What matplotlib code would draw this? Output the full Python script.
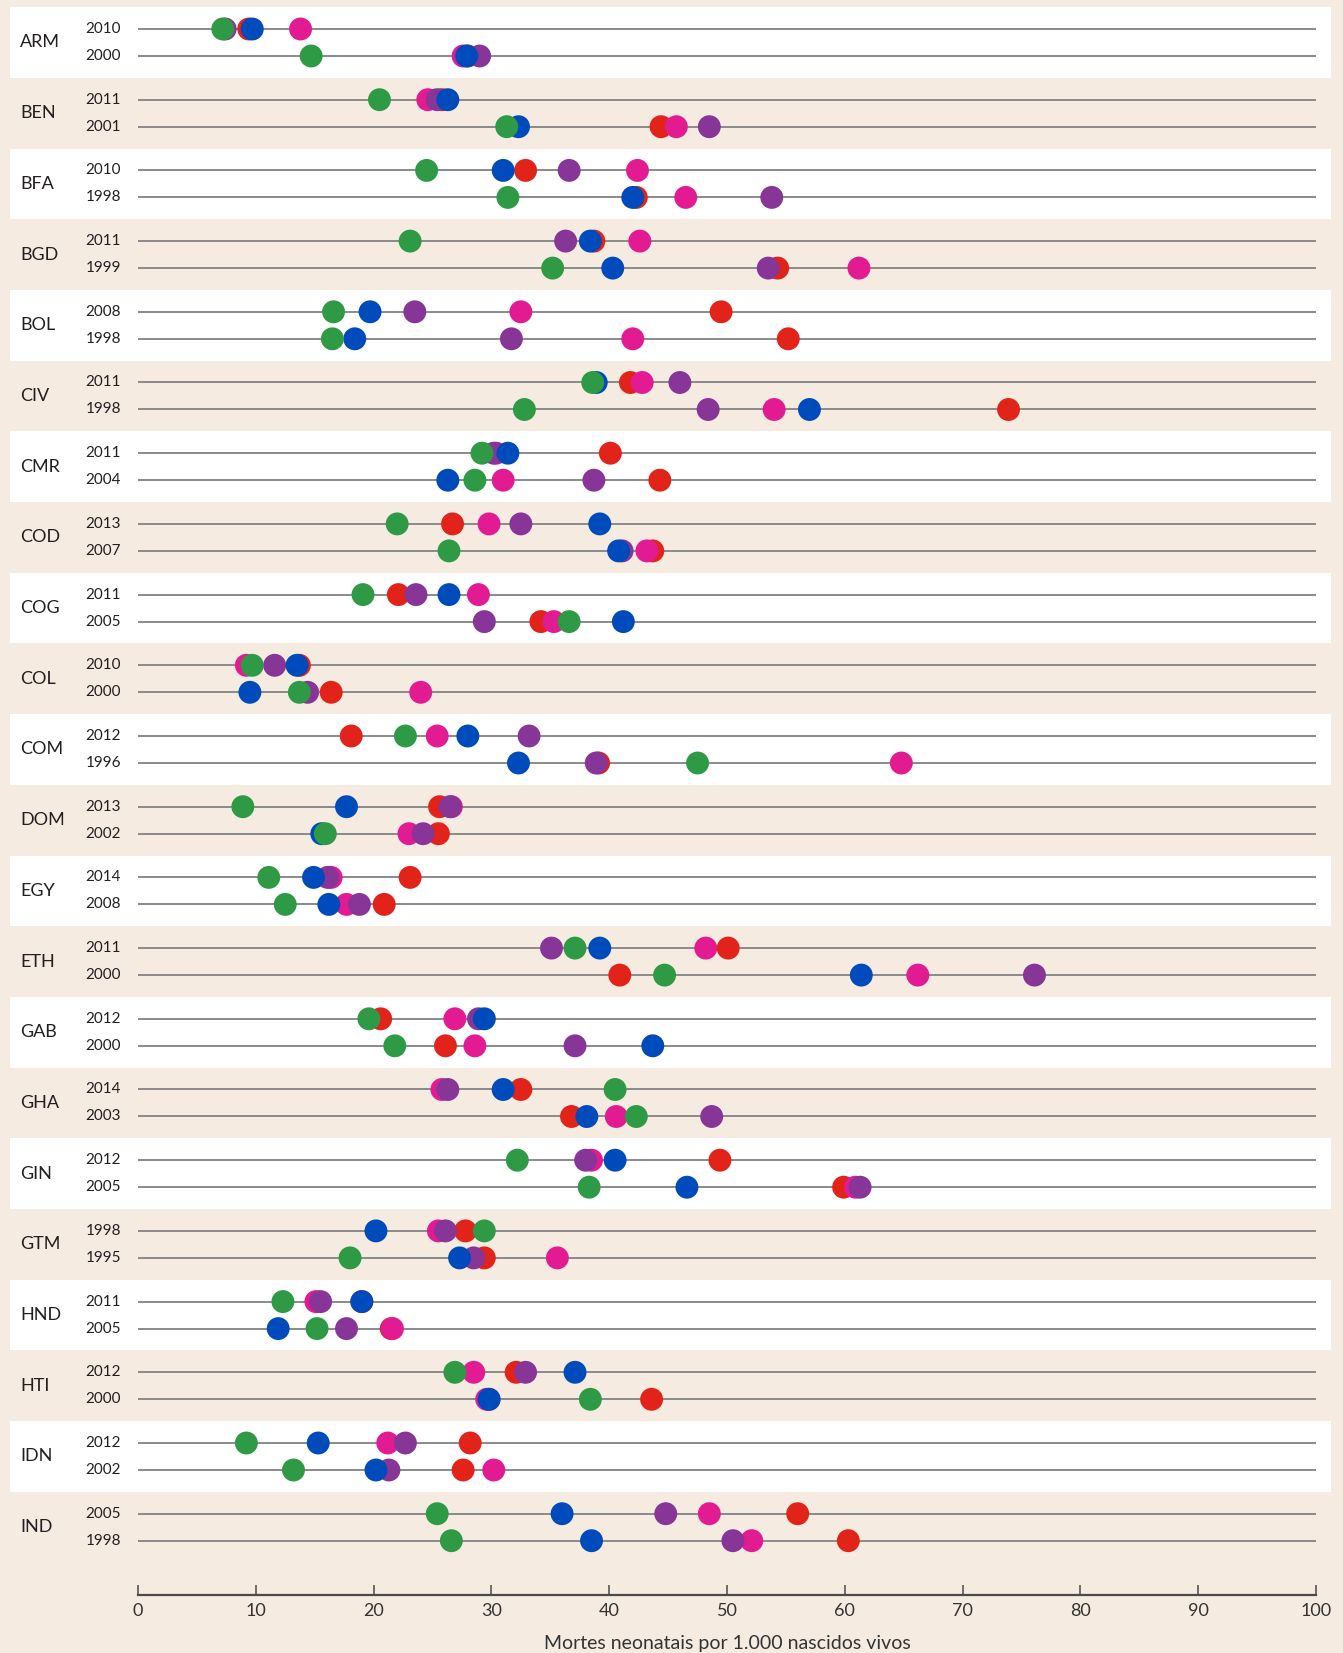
import matplotlib
matplotlib.use("Agg")
import matplotlib.pyplot as plt
from matplotlib.patches import Rectangle
import numpy as np

# ---------------- data ----------------
countries = ["ARM", "BEN", "BFA", "BGD", "BOL", "CIV", "CMR", "COD", "COG", "COL", "COM",
             "DOM", "EGY", "ETH", "GAB", "GHA", "GIN", "GTM", "HND", "HTI", "IDN", "IND"]
years_recent = ["2010", "2011", "2010", "2011", "2008", "2011", "2011", "2013", "2011", "2010", "2012",
                "2013", "2014", "2011", "2012", "2014", "2012", "1998", "2011", "2012", "2012", "2005"]
years_earlier = ["2000", "2001", "1998", "1999", "1998", "1998", "2004", "2007", "2005", "2000", "1996",
                 "2002", "2008", "2000", "2000", "2003", "2005", "1995", "2005", "2000", "2002", "1998"]

red_recent = [9.4, 25.8, 32.9, 38.7, 49.5, 41.8, 40.1, 26.7, 22.1, 13.7, 18.1,
              25.6, 23.1, 50.1, 20.6, 32.5, 49.4, 27.8, 19.0, 32.1, 28.2, 56.0]
red_earlier = [28.0, 44.4, 42.3, 54.3, 55.2, 73.9, 44.3, 43.7, 34.2, 16.4, 39.1,
               25.5, 20.9, 40.9, 26.1, 36.8, 59.9, 29.4, 21.5, 43.6, 27.6, 60.3]

pink_recent = [13.8, 24.6, 42.4, 42.6, 32.5, 42.8, 30.4, 29.8, 28.9, 9.2, 25.4,
               26.6, 16.4, 48.2, 26.9, 25.8, 38.5, 25.5, 15.1, 28.5, 21.2, 48.5]
pink_earlier = [27.6, 45.7, 46.5, 61.2, 42.0, 54.0, 31.0, 43.2, 35.3, 24.0, 64.8,
                23.0, 17.7, 66.2, 28.6, 40.6, 60.9, 35.6, 21.6, 29.6, 30.2, 52.1]

purple_recent = [7.4, 25.4, 36.6, 36.3, 23.5, 46.0, 30.2, 32.5, 23.6, 11.6, 33.2,
                 26.5, 16.1, 35.1, 28.9, 26.3, 38.0, 26.1, 15.5, 32.9, 22.7, 44.8]
purple_earlier = [29.0, 48.5, 53.8, 53.5, 31.7, 48.4, 38.7, 41.1, 29.4, 14.4, 38.9,
                  24.2, 18.8, 76.1, 37.1, 48.7, 61.3, 28.5, 17.7, 29.8, 21.3, 50.5]

blue_recent = [9.7, 26.3, 31.0, 38.4, 19.7, 38.9, 31.4, 39.2, 26.4, 13.5, 28.0,
               17.7, 14.9, 39.2, 29.4, 31.0, 40.5, 20.2, 19.0, 37.1, 15.3, 36.0]
blue_earlier = [27.9, 32.3, 42.0, 40.3, 18.4, 57.0, 26.3, 40.8, 41.2, 9.5, 32.3,
                15.6, 16.2, 61.4, 43.7, 38.1, 46.6, 27.3, 11.9, 29.8, 20.2, 38.5]

green_recent = [7.2, 20.5, 24.5, 23.1, 16.6, 38.6, 29.2, 22.0, 19.1, 9.7, 22.7,
                8.9, 11.1, 37.1, 19.6, 40.5, 32.2, 29.4, 12.3, 26.9, 9.2, 25.4]
green_earlier = [14.7, 31.3, 31.4, 35.2, 16.5, 32.8, 28.6, 26.4, 36.6, 13.7, 47.5,
                 15.9, 12.5, 44.7, 21.8, 42.3, 38.3, 18.0, 15.2, 38.4, 13.2, 26.6]

x_ticks = [0, 10, 20, 30, 40, 50, 60, 70, 80, 90, 100]
x_label = "Mortes neonatais por 1.000 nascidos vivos"

# ---------------- style ----------------
BG = "#f5ebe0"
TEXT = "#231f20"
colors = {"red": "#e2231a", "pink": "#e31b93", "purple": "#873597",
          "blue": "#004bbb", "green": "#2f9a46"}
series = [("red", red_recent, red_earlier),
          ("pink", pink_recent, pink_earlier),
          ("purple", purple_recent, purple_earlier),
          ("blue", blue_recent, blue_earlier),
          ("green", green_recent, green_earlier)]

plt.rcParams["font.family"] = ["Lato", "DejaVu Sans"]

W, H = 1343, 1653
fig = plt.figure(figsize=(W / 100, H / 100), dpi=100, facecolor=BG)

left_px, right_px = 138, 1316
axis_px = 1595
ax = fig.add_axes([left_px / W, 1 - axis_px / H, (right_px - left_px) / W, axis_px / H])
ax.set_facecolor("none")

step_px = 70.7
first_center_px = 42.5
half_gap = 13.5 / step_px
y_top = (0 - first_center_px) / step_px
y_bot = (axis_px - first_center_px) / step_px
ax.set_ylim(y_bot, y_top)
ax.set_xlim(0, 100)

n = len(countries)
idx = np.arange(n)

# white alternating bands (extend beyond data range)
band_x0 = (10 - left_px) / ((right_px - left_px) / 100)
band_x1 = (1331 - left_px) / ((right_px - left_px) / 100)
for i in idx:
    if i % 2 == 0:
        ax.add_patch(Rectangle((band_x0, i - 0.5), band_x1 - band_x0, 1.0,
                               facecolor="white", edgecolor="none", zorder=0, clip_on=False))

# row lines
for i in idx:
    for yy in (i - half_gap, i + half_gap):
        ax.plot([0, 100], [yy, yy], color="#8a8a8a", lw=1.4, zorder=1, solid_capstyle="butt")

# dots
for z, (name, recent, earlier) in enumerate(series):
    ax.scatter(recent, idx - half_gap, s=272, color=colors[name], edgecolors="none",
               zorder=3 + z, clip_on=False)
    ax.scatter(earlier, idx + half_gap, s=272, color=colors[name], edgecolors="none",
               zorder=3 + z, clip_on=False)

# labels
for i in idx:
    ax.text(band_x0 + 0.85, i, countries[i], ha="left", va="center",
            fontsize=13, color=TEXT, clip_on=False)
    ax.text(-1.45, i - half_gap, years_recent[i], ha="right", va="center",
            fontsize=11, color=TEXT, clip_on=False)
    ax.text(-1.45, i + half_gap, years_earlier[i], ha="right", va="center",
            fontsize=11, color=TEXT, clip_on=False)

# axes styling
for s in ("top", "right", "left"):
    ax.spines[s].set_visible(False)
ax.spines["bottom"].set_color("#4a4a4a")
ax.spines["bottom"].set_linewidth(1.6)
ax.set_yticks([])
ax.set_xticks(x_ticks)
ax.set_xticklabels([str(t) for t in x_ticks])
ax.tick_params(axis="x", direction="in", length=7, width=1.1, color="#4a4a4a",
               labelsize=13, labelcolor="#333333", pad=6)
ax.set_xlabel(x_label, fontsize=14, color="#333333", labelpad=11)

fig.savefig("out.png", dpi=100, facecolor=BG)
